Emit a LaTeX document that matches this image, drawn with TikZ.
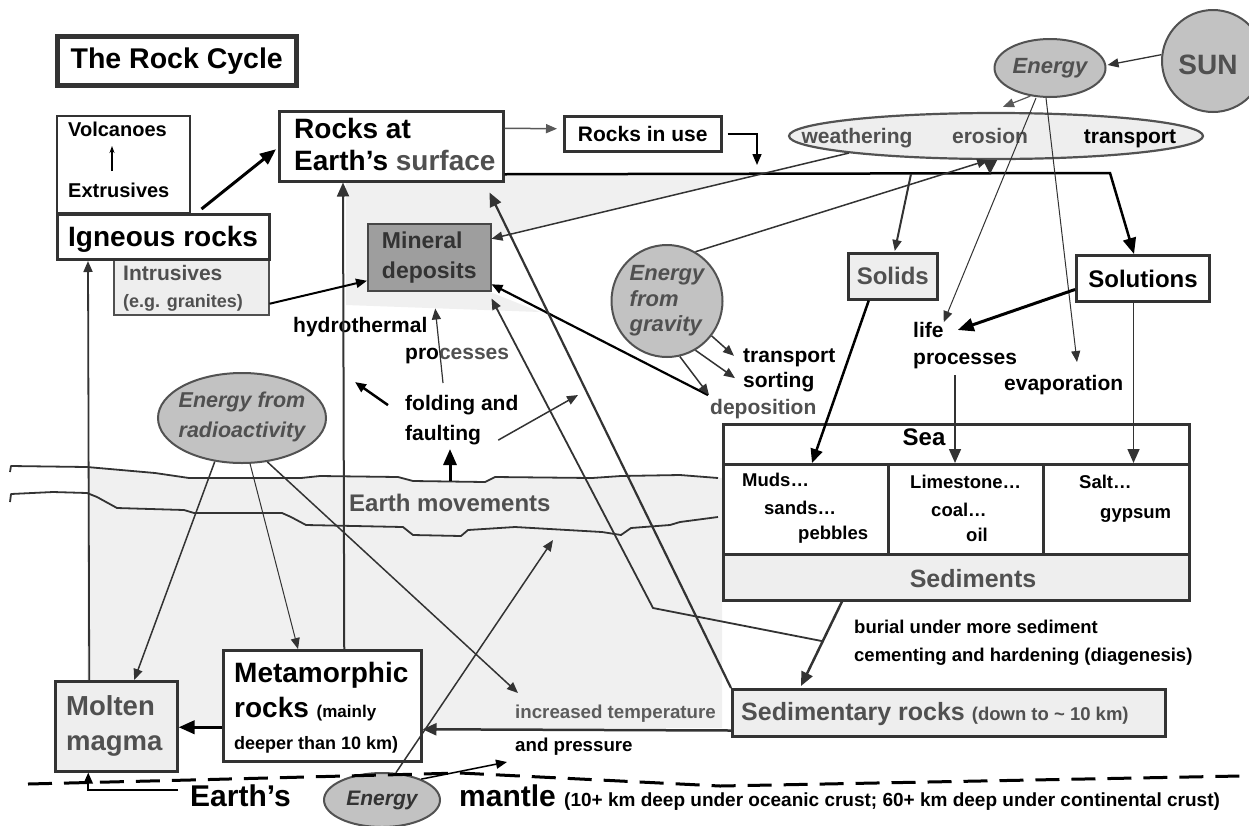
\documentclass[tikz,border=0pt]{standalone}
\usepackage{fontspec}
\setmainfont{Liberation Sans}
\usetikzlibrary{arrows.meta,shapes.geometric,calc}
\definecolor{linec}{HTML}{333333}
\definecolor{lightg}{HTML}{EEEEEE}
\definecolor{crust}{HTML}{F0F0F0}
\definecolor{blobg}{HTML}{C2C2C2}
\definecolor{minerg}{HTML}{9E9E9E}
\definecolor{txtg}{HTML}{505050}
\newcommand\fsz[1]{\fontsize{#1}{#1}\selectfont}
\newcommand\fszl[2]{\fontsize{#1}{#2}\selectfont}
\tikzset{
  every node/.append style={font=\bfseries},
  box/.style={draw=linec, line width=2.5pt, inner sep=0pt, anchor=north west, fill=white},
  blob/.style={ellipse, draw=linec!85, line width=2pt, fill=blobg, inner sep=0pt},
  txt/.style={inner sep=0pt, anchor=base west},
  ctxt/.style={inner sep=0pt, anchor=base},
  arr/.style={draw=linec, line width=1.5pt, -{Triangle[length=11pt,width=9pt]}},
  bigarr/.style={draw=black, line width=3pt, -{Triangle[length=16pt,width=13pt]}},
  wavy/.style={draw=linec, line width=1.8pt, line join=round},
}
\begin{document}
\begin{tikzpicture}[x=1pt,y=-1pt]
\useasboundingbox (0,0) rectangle (1249,825);
\fill[white] (0,0) rectangle (1249,825);
% shaded crust
\fill[crust] (87,467) -- (155,473) -- (189,478) -- (301,478) -- (320,476) -- (398,477) -- (413,481) -- (485,482) -- (495,477) -- (592,478) -- (621,476) -- (680,475) -- (722,478) -- (722,728) -- (87,728) -- cycle;
\fill[crust] (346,181) -- (502,181) -- (502,174) -- (761,174) -- (490,238) -- (490,292) -- (540,312) -- (346,305) -- cycle;
% wavy lines
\draw[wavy] (10,472) -- (11,466) -- (87,467) -- (155,473) -- (189,478) -- (301,478) -- (320,476) -- (398,477) -- (413,481) -- (485,482) -- (495,477) -- (592,478) -- (621,476) -- (680,475) -- (718,478);
\draw[wavy] (10,502) -- (11,494) -- (53,492) -- (87,493) -- (97,497) -- (117,508) -- (184,510) -- (194,513) -- (282,513) -- (291,517) -- (306,525) -- (403,527) -- (413,535) -- (461,536) -- (468,530) -- (515,527) -- (602,532) -- (621,535) -- (631,528) -- (670,525) -- (680,522) -- (718,517);

% title
\node[box, line width=4.5pt, minimum width=239pt, minimum height=49pt, font=\bfseries\fsz{28.5}] (title) at (55,34) {The Rock Cycle};

% volcanoes
\node[box, line width=1.5pt, minimum width=133pt, minimum height=97pt] (volc) at (56,115) {};
\node[txt] (volt) at (68,136) {\fsz{20}Volcanoes};
\node[txt] (extt) at (68,197) {\fsz{20}Extrusives};
\coordinate (va1) at (112,171);
\coordinate (va2) at (112,146);
\draw[line width=1.2pt, -{Stealth[length=7pt,width=5pt]}] (va1) -- (va2);

% intrusives and igneous
\node[box, fill=lightg, draw=txtg, line width=1.5pt, minimum width=155pt, minimum height=56pt] (intr) at (113,258) {};
\node[txt, text=txtg] (intrt) at (123,280.5) {\fsz{21}Intrusives};
\node[txt, text=txtg] (intrt2) at (123,307.5) {\fsz{18}(e.g. granites)};
\node[box, line width=3pt, minimum width=212pt, minimum height=45pt] (igneous) at (56,213) {};
\node[txt] (ignt) at (68,246) {\fsz{28}Igneous rocks};

% rocks at earth's surface
\node[box, minimum width=224pt, minimum height=70pt] (rocksurf) at (278,110) {};
\node[txt] (rs1) at (294,138) {\fsz{28}Rocks at};
\node[txt] (rs2) at (294,170) {\fsz{28}Earth’s {\color{txtg}surface}};

% rocks in use
\node[box, minimum width=157pt, minimum height=35pt, font=\bfseries\fsz{21}] (rocksuse) at (563,115) {Rocks in use};

% weathering ellipse
\node[blob, fill=lightg, minimum width=414pt, minimum height=46pt, line width=2.2pt] (weather) at (996,136) {};
\node[ctxt, text=txtg] (weat) at (857,143.5) {\fsz{21}weathering};
\node[ctxt, text=txtg] (eros) at (990,143.5) {\fsz{21}erosion};
\node[ctxt] (tran) at (1130,143.5) {\fsz{21}transport};

% energy and sun
\node[blob, minimum width=111pt, minimum height=58pt, text=txtg, font=\bfseries\itshape\fsz{22}] (entop) at (1050,68) {Energy};
\node[blob, minimum width=102pt, minimum height=102pt] (sun) at (1213,61) {};
\node[ctxt, text=txtg] (sunt) at (1208,74) {\fsz{28}SUN};

% mineral deposits
\node[box, fill=minerg, draw=gray!55!black, line width=1.5pt, minimum width=123pt, minimum height=67pt, align=left, text=linec, font=\bfseries\fszl{23}{30}] (mineral) at (367,223) {Mineral\\deposits};

% gravity
\node[blob, minimum width=111pt, minimum height=112pt, align=left, text=txtg, font=\bfseries\itshape\fszl{22}{25.5}] (gravity) at (667,301) {Energy\\from\\gravity};

% solids, solutions
\node[box, fill=lightg, minimum width=89pt, minimum height=46pt, text=txtg, font=\bfseries\fsz{24}] (solids) at (847,252) {Solids};
\node[box, line width=3pt, minimum width=133pt, minimum height=46pt, font=\bfseries\fsz{24}] (solutions) at (1075,254) {Solutions};

% radioactivity
\node[blob, minimum width=168pt, minimum height=90pt] (radio) at (242,418) {};
\node[inner sep=0pt, align=center, text=txtg, font=\bfseries\itshape\fszl{21.5}{30}] (radiot) at (242,417) {Energy from\\radioactivity};

% texts in the middle
\node[txt] (hydro) at (293,332.5) {\fsz{21}hydrothermal};
\node[txt] (procs) at (405,359.5) {\fsz{21}pro{\color{txtg}cesses}};
\node[txt] (fold) at (405,410.5) {\fsz{21}folding and};
\node[txt] (fault) at (405,440.5) {\fsz{21}faulting};
\node[txt] (tr2) at (743,362.5) {\fsz{21}transport};
\node[txt] (sort) at (743,387.5) {\fsz{21}sorting};
\node[txt, text=txtg] (depo) at (710,414.5) {\fsz{21}deposition};
\node[txt] (life) at (913,337.5) {\fsz{21}life};
\node[txt] (lifep) at (913,364.5) {\fsz{21}processes};
\node[txt] (evap) at (1004,390.5) {\fsz{21}evaporation};
\node[txt, text=txtg] (emov) at (349,511.5) {\fsz{24}Earth movements};

% sea and sediments
\node[box, minimum width=466pt, minimum height=40pt] (sea) at (722,423) {};
\node[ctxt] (seat) at (924,445.6) {\fsz{24}Sea};
\node[box, minimum width=165pt, minimum height=90pt] (cell1) at (722,463) {};
\node[box, minimum width=155pt, minimum height=90pt] (cell2) at (887,463) {};
\node[box, minimum width=146pt, minimum height=90pt] (cell3) at (1042,463) {};
\node[box, fill=lightg, minimum width=466pt, minimum height=46pt] (sedim) at (722,553) {};
\node[ctxt, text=txtg] (sedimt) at (973,587) {\fsz{25}Sediments};
\node[txt] (m1) at (742,486.7) {\fsz{18.5}Muds…};
\node[txt] (m2) at (764,514.7) {\fsz{18.5}sands…};
\node[txt] (m3) at (798,539.7) {\fsz{18.5}pebbles};
\node[txt] (l1) at (910,488.7) {\fsz{18.5}Limestone…};
\node[txt] (l2) at (931,516.7) {\fsz{18.5}coal…};
\node[txt] (l3) at (966,541.7) {\fsz{18.5}oil};
\node[txt] (sa1) at (1079,488.7) {\fsz{18.5}Salt…};
\node[txt] (sa2) at (1100,518.7) {\fsz{18.5}gypsum};
\node[txt] (burial) at (854,633.7) {\fsz{18.5}burial under more sediment};
\node[txt] (cement) at (854,661.7) {\fsz{18.5}cementing and hardening (diagenesis)};

% sedimentary rocks
\node[box, fill=lightg, minimum width=433pt, minimum height=47pt] (sedrocks) at (731,688) {};
\node[txt, text=txtg] (sedt) at (741,720) {\fsz{25}Sedimentary rocks {\fsz{18.5}(down to \textasciitilde{} 10 km)}};

% metamorphic, molten
\node[box, minimum width=198pt, minimum height=111pt] (meta) at (222,649) {};
\node[txt] (mt1) at (234,682) {\fsz{28}Metamorphic};
\node[txt] (mt2) at (234,717) {\fsz{28}rocks {\fsz{17}(mainly}};
\node[txt] (mt3) at (234,749.5) {\fsz{18}deeper than 10 km)};
\node[box, fill=lightg, minimum width=122pt, minimum height=90pt] (molten) at (54,680) {};
\node[txt, text=txtg] (mo1) at (66,715) {\fsz{27.5}Molten};
\node[txt, text=txtg] (mo2) at (66,750) {\fsz{27.5}magma};
\node[txt, text=linec!80] (incr) at (515,718.7) {\fsz{18.7}increased temperature};
\node[txt] (press) at (515,751.7) {\fsz{18.7}and pressure};

% bottom
\node[blob, minimum width=116pt, minimum height=54pt, text=linec, font=\bfseries\itshape\fsz{21}] (enbot) at (382,800) {Energy};
\node[txt] (earths) at (190,806) {\fsz{30}Earth’s};
\node[txt] (mantle) at (459,806) {\fsz{30}mantle {\fsz{19}(10+ km deep under oceanic crust; 60+ km deep under continental crust)}};
\draw[black, line width=3pt, dash pattern=on 24pt off 12pt] (28,784) -- (190,780) -- (460,773) -- (720,786) -- (1240,776);

% ---------- connectors ----------
\draw[bigarr] ($(igneous.north)+(38,-4)$) -- ($(rocksurf.west)+(-2,3)$);
\draw[arr, draw=gray!70!black] ($(rocksurf.east)+(0,-18)$) -- ($(rocksuse.west)+(-6,-5)$);
\coordinate (ru) at (757,165);
\draw[arr, draw=black] ($(rocksuse.east)+(5,0)$) -| (ru);
\coordinate (bend) at (1110,173);
\draw[bigarr, line width=2.5pt] ($(rocksurf.east)+(0,28)$) -- (bend) -- ($(solutions.north)+(-9,0)$);
\coordinate (j1) at (990,174);
\draw[arr, -{Triangle[length=14pt,width=14pt]}] ($(weather.south)+(-6,0)$) -- (j1);
\coordinate (j2) at (911,174);
\draw[arr, line width=2pt] (j2) -- ($(solids.north)+(2,-1)$);
\draw[arr] (weather.south west) -- ($(mineral.east)+(0,-18.5)$);
\draw[arr] (gravity.60) -- (weather.252);
\draw[arr, line width=1.2pt, draw=gray!70!black] (entop.235) -- ($(weather.north)+(7,-5)$);
\draw[arr, line width=1.3pt] (sun.173) -- ($(entop.east)+(1,-3)$);
\draw[arr, line width=1pt] ($(entop.south)+(-14,0)$) -- (life.north east);
\coordinate (ev) at (1077,362);
\draw[arr, line width=1pt] ($(entop.south)+(-4,0)$) -- (ev);
\draw[bigarr] ($(solutions.west)+(0,11)$) -- ($(life.east)+(14,0)$);
\draw[arr, draw=black, line width=2.5pt, -{Triangle[length=14pt,width=12pt]}] ($(solids.south)+(-24,0)$) -- ($(cell1.north west)+(90,0)$);
\coordinate (lp) at (955,375);
\draw[arr, -{Triangle[length=14pt,width=12pt]}] (lp) -- (lp |- cell2.north);
\coordinate (sl) at ($(solutions.south)+(-9.5,0)$);
\draw[arr, -{Triangle[length=14pt,width=12pt]}] (sl) -- (sl |- cell3.north);
\coordinate (s1) at ($(sedim.south west)+(120,0)$);
\coordinate (s2) at ($(sedrocks.north west)+(70,-2)$);
\draw[arr, line width=2.5pt, -{Triangle[length=14pt,width=12pt]}] (s1) -- (s2);
\draw[arr, line width=2.5pt, -{Triangle[length=14pt,width=12pt]}] ($(sedrocks.south west)+(0,-7)$) -- ($(meta.east)+(0,23.5)$);
\draw[bigarr, line width=3.5pt] ($(meta.west)+(0,21.5)$) -- ($(molten.east)+(0,1)$);
\draw[arr, line width=1.8pt] ($(molten.north)+(-27,0)$) -- ($(igneous.south west)+(32,0)$);
\draw[arr, line width=2pt, -{Triangle[length=14pt,width=12pt]}] ($(meta.north)+(22,0)$) -- ($(rocksurf.south west)+(65,0)$);
\draw[arr] (radio.238) -- ($(molten.north)+(18,0)$);
\draw[arr, line width=1pt] (radio.280) -- ($(meta.north west)+(76,0)$);
\coordinate (it) at (518,693);
\draw[arr] (radio.300) -- (it);
\coordinate (em) at (553,540);
\draw[arr] (enbot.63) -- (em);
\coordinate (pr) at (507,762);
\draw[arr, draw=black] (enbot.28) -- (pr);
\coordinate (mb) at (178,790);
\draw[arr, draw=black, line width=2pt] (mb) -| ($(molten.south)+(-28,0)$);
\draw[arr, draw=black, line width=2.2pt] ($(depo.north west)+(-2,-4)$) -- ($(mineral.east)+(0,27)$);
\draw[arr] (gravity.322) -- ($(tr2.west)+(-9,-2)$);
\draw[arr] (gravity.300) -- ($(sort.west)+(-8,-4)$);
\draw[arr] (gravity.283) -- ($(depo.north west)+(-1,-4)$);
\draw[arr, draw=black, line width=2pt] ($(intr.east)+(0,17)$) -- ($(mineral.west)+(0,23.5)$);
\coordinate (fu) at (443,383);
\draw[arr, line width=1.2pt] (fu) -- ($(mineral.south)+(6,17)$);
\coordinate (fl) at (355,382);
\draw[arr, draw=black, line width=2.5pt] ($(fold.west)+(-17,0)$) -- (fl);
\coordinate (fr) at (578,395);
\draw[arr] ($(fault.east)+(17,5)$) -- (fr);
\coordinate (eu) at (450,481);
\coordinate (ed) at (450,449);
\draw[bigarr] (eu) -- (ed);
\coordinate (la1) at (653,608);
\draw[arr, line width=1.8pt] ($(s1)!0.47!(s2)$) -- (la1) -- ($(mineral.south east)+(0,7)$);
\draw[arr, line width=2.2pt, -{Triangle[length=14pt,width=12pt]}] (sedrocks.north west) -- ($(rocksurf.south east)+(-15,10)$);
\end{tikzpicture}
\end{document}
